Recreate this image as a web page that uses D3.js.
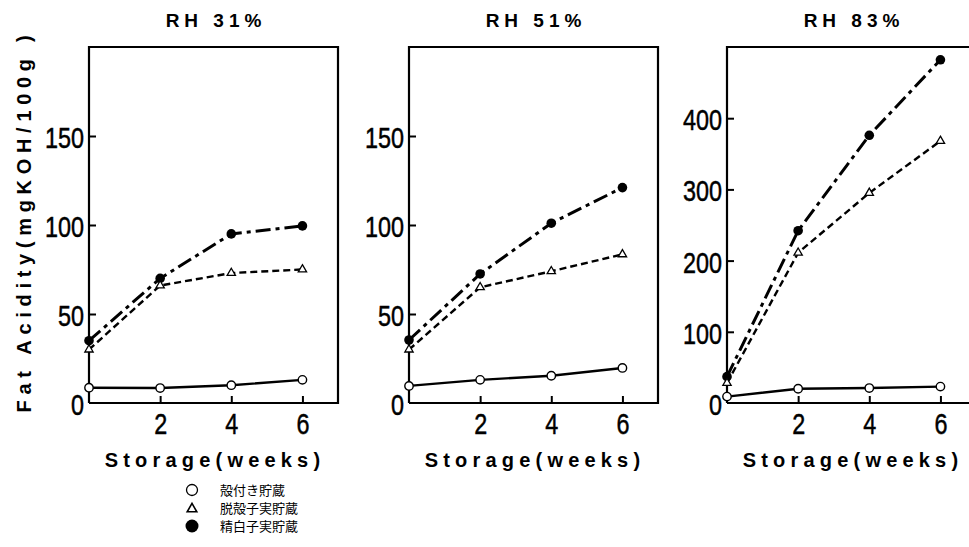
<!DOCTYPE html>
<html>
<head>
<meta charset="utf-8">
<script src="https://cdn.jsdelivr.net/npm/d3@7"></script>
<style>
  body { margin: 0; background: #fff; }
  svg { display: block; }
</style>
</head>
<body>
<div class="chart"></div>
<script>
// weeks of storage
var weeks = [0, 2, 4, 6];

// RH 31%
var rh31Shell = [8.6, 8.4, 10, 13];
var rh31Hulled = [30, 66, 73, 75];
var rh31Polished = [35, 70, 95, 99.5];

// RH 51%
var rh51Shell = [9.6, 13, 15.3, 19.7];
var rh51Hulled = [30, 65, 74, 83.5];
var rh51Polished = [35.4, 72.5, 101, 121];

// RH 83%
var rh83Shell = [9, 20, 21, 23];
var rh83Hulled = [28, 211, 295, 368];
var rh83Polished = [37, 242, 376, 482];

var panelTitles = ['RH 31%', 'RH 51%', 'RH 83%'];
var yMax = [200, 200, 500];
var yTicks = [[0, 50, 100, 150], [0, 50, 100, 150], [0, 100, 200, 300, 400]];
var xTicks = [2, 4, 6];

var legendLabels = ['殻付き貯蔵', '脱殻子実貯蔵', '精白子実貯蔵'];

var W = 969, H = 547;
var svg = d3.select('.chart')
  .append('svg')
  .attr('width', W)
  .attr('height', H);

var panels = [
  { left: 89, shell: rh31Shell, hulled: rh31Hulled, polished: rh31Polished },
  { left: 409, shell: rh51Shell, hulled: rh51Hulled, polished: rh51Polished },
  { left: 727, shell: rh83Shell, hulled: rh83Hulled, polished: rh83Polished }
];
var plotTop = 47, plotBottom = 403, plotW = 249;

var tickFont = '"Liberation Sans", Arial, sans-serif';
var labelFont = '"Liberation Sans", Arial, sans-serif';

// squeeze digits so they look like the narrow numerals of the original
function narrowTicks(sel) {
  sel.style('font-family', tickFont)
    .style('font-size', '30px')
    .style('stroke', '#000')
    .style('stroke-width', 0.5)
    .attr('lengthAdjust', 'spacingAndGlyphs')
    .attr('textLength', function(d) { return String(d).length * 13; });
}

panels.forEach(function(p, i) {
  var g = svg.append('g').attr('transform', 'translate(' + p.left + ',' + plotTop + ')');
  var h = plotBottom - plotTop;

  var xScale = d3.scaleLinear().domain([0, 7]).range([0, plotW]);
  var yScale = d3.scaleLinear().domain([0, yMax[i]]).range([h, 0]);

  // frame
  g.append('path')
    .attr('d', 'M0,' + h + 'V0H' + plotW + 'V' + h + 'H0')
    .style('fill', 'none')
    .style('stroke', '#000')
    .style('stroke-width', 2.2);

  // y axis
  var ya = g.append('g')
    .call(d3.axisLeft(yScale).tickValues(yTicks[i]).tickFormat(d3.format('d')).tickSize(-7).tickPadding(5));
  ya.select('.domain').remove();
  ya.selectAll('line').style('stroke-width', 2);
  ya.selectAll('text').call(narrowTicks).attr('dy', '0.38em');
  ya.selectAll('.tick').filter(function(d) { return d === 0; }).select('line').remove();

  // x axis
  var xa = g.append('g')
    .attr('transform', 'translate(0,' + h + ')')
    .call(d3.axisBottom(xScale).tickValues(xTicks).tickFormat(d3.format('d')).tickSize(-7).tickPadding(10));
  xa.select('.domain').remove();
  xa.selectAll('line').style('stroke-width', 2);
  xa.selectAll('text').call(narrowTicks).attr('dy', '0.71em');

  // title
  svg.append('text')
    .attr('x', p.left + 127)
    .attr('y', 27)
    .style('text-anchor', 'middle')
    .style('font-family', labelFont)
    .style('font-weight', 'bold')
    .style('font-size', '19px')
    .style('letter-spacing', '5px')
    .text(panelTitles[i]);

  // x label
  svg.append('text')
    .attr('x', p.left + 126)
    .attr('y', 467)
    .style('text-anchor', 'middle')
    .style('font-family', labelFont)
    .style('font-weight', 'bold')
    .style('font-size', '20px')
    .style('letter-spacing', '5.2px')
    .text('Storage(weeks)');

  var line = d3.line()
    .x(function(d, j) { return xScale(weeks[j]); })
    .y(function(d) { return yScale(d); });

  // polished: dash-dot
  g.append('path')
    .attr('d', line(p.polished))
    .style('fill', 'none')
    .style('stroke', '#000')
    .style('stroke-width', 3)
    .style('stroke-dasharray', '15,5,4,5');
  // hulled: dashed
  g.append('path')
    .attr('d', line(p.hulled))
    .style('fill', 'none')
    .style('stroke', '#000')
    .style('stroke-width', 2.4)
    .style('stroke-dasharray', '7,4');
  // in shell: solid
  g.append('path')
    .attr('d', line(p.shell))
    .style('fill', 'none')
    .style('stroke', '#000')
    .style('stroke-width', 2.4);

  g.selectAll('.dotF')
    .data(p.polished)
    .enter()
    .append('circle')
    .attr('cx', function(d, j) { return xScale(weeks[j]); })
    .attr('cy', function(d) { return yScale(d); })
    .attr('r', 4.8)
    .style('fill', '#000');

  g.selectAll('.tri')
    .data(p.hulled)
    .enter()
    .append('path')
    .attr('transform', function(d, j) { return 'translate(' + xScale(weeks[j]) + ',' + yScale(d) + ')'; })
    .attr('d', d3.symbol().type(d3.symbolTriangle).size(30))
    .style('fill', '#fff')
    .style('stroke', '#000')
    .style('stroke-width', 1.3);

  g.selectAll('.dotO')
    .data(p.shell)
    .enter()
    .append('circle')
    .attr('cx', function(d, j) { return xScale(weeks[j]); })
    .attr('cy', function(d) { return yScale(d); })
    .attr('r', 4.2)
    .style('fill', '#fff')
    .style('stroke', '#000')
    .style('stroke-width', 1.4);
});

// y label
svg.append('text')
  .attr('transform', 'translate(31,221) rotate(-90)')
  .style('text-anchor', 'middle')
  .style('font-family', labelFont)
  .style('font-weight', 'bold')
  .style('font-size', '20px')
  .style('letter-spacing', '5.7px')
  .text('Fat Acidity(mgKOH/100g )');

// legend
var lg = svg.append('g').attr('transform', 'translate(192,0)');
var rowsY = [490, 508, 526];
lg.append('circle').attr('cx', 0).attr('cy', rowsY[0]).attr('r', 5.5)
  .style('fill', '#fff').style('stroke', '#000').style('stroke-width', 1.3);
lg.append('path').attr('transform', 'translate(0,' + (rowsY[1] + 1) + ')')
  .attr('d', d3.symbol().type(d3.symbolTriangle).size(40))
  .style('fill', '#fff').style('stroke', '#000').style('stroke-width', 1.6);
lg.append('circle').attr('cx', 0).attr('cy', rowsY[2]).attr('r', 6.5)
  .style('fill', '#000');
lg.selectAll('.lt')
  .data(legendLabels)
  .enter()
  .append('text')
  .attr('x', 28)
  .attr('y', function(d, i) { return rowsY[i]; })
  .attr('dy', '0.36em')
  .style('font-family', '"Noto Sans CJK JP", sans-serif')
  .style('font-size', '13px')
  .text(function(d) { return d; });
</script>
</body>
</html>
